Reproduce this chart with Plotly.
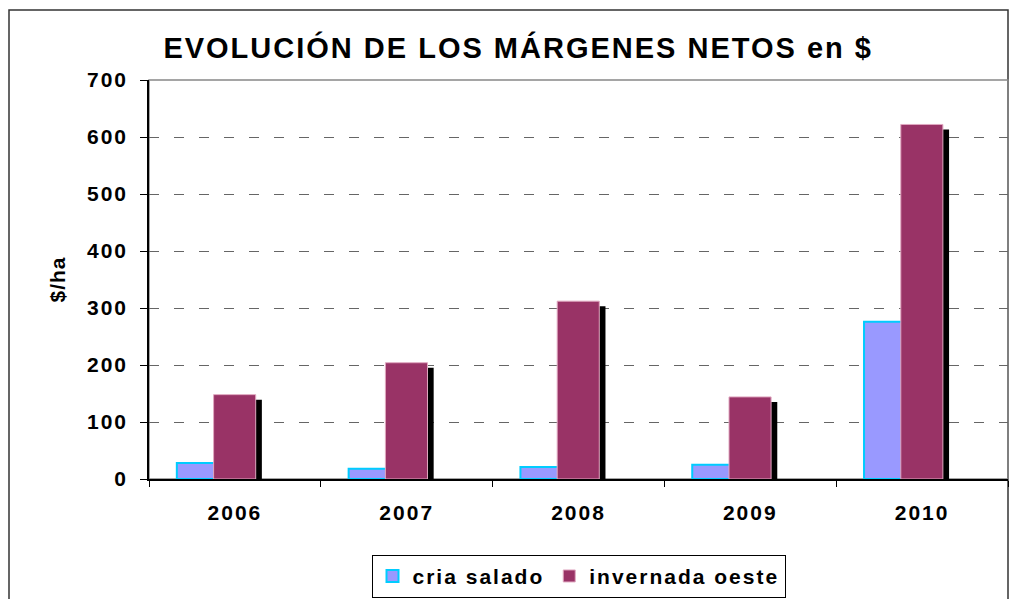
import plotly.graph_objects as go

# data
years = ["2006", "2007", "2008", "2009", "2010"]
cria_salado = [28, 18, 21, 25, 276]
invernada_oeste = [148, 204, 312, 144, 622]

font = "Liberation Sans, Arial, sans-serif"


def spaced(txt, px):
    return f'<span style="letter-spacing:{px}px"><b>{txt}</b></span>'


fig = go.Figure()

# drop shadow behind the invernada bars (same values, shifted down/right)
fig.add_trace(go.Bar(x=years, y=[v - 9 for v in invernada_oeste],
                     offset=-0.09, width=0.247,
                     marker=dict(color="black", line=dict(width=0)),
                     showlegend=False, hoverinfo="skip"))
fig.add_trace(go.Bar(x=years, y=cria_salado, name=spaced("cria salado", 2),
                     offset=-0.338, width=0.24,
                     marker=dict(color="#9999FF",
                                 line=dict(color="#00CCFF", width=2))))
fig.add_trace(go.Bar(x=years, y=invernada_oeste,
                     name=spaced("invernada oeste", 2),
                     offset=-0.124, width=0.245,
                     marker=dict(color="#993366",
                                 line=dict(color="#E0A8C0", width=1))))

fig.update_layout(
    width=1016, height=599,
    margin=dict(l=149, r=8, t=80, b=120, autoexpand=False),
    paper_bgcolor="white", plot_bgcolor="white",
    barmode="overlay",
    font=dict(family=font, size=17, color="black"),
    title=dict(text=spaced("EVOLUCIÓN DE LOS MÁRGENES NETOS en $", 2),
               font=dict(size=29), x=0.51, xanchor="center",
               y=0.92, yanchor="middle"),
    legend=dict(orientation="h", x=0.5, xanchor="center",
                y=-0.19, yanchor="top",
                bordercolor="black", borderwidth=1,
                font=dict(size=21, color="black"),
                itemwidth=30, traceorder="normal"),
    shapes=[
        # outer chart frame
        dict(type="rect", xref="paper", yref="paper",
             x0=-140 / 859, x1=1, y0=-130 / 399, y1=469 / 399,
             line=dict(color="#333333", width=1.5), layer="below"),
        # plot area frame
        dict(type="rect", xref="paper", yref="paper",
             x0=0, x1=1, y0=0, y1=1,
             line=dict(color="#888888", width=1.5), layer="below"),
    ],
)

pre = '<span style="letter-spacing:2px"><b>'
post = '</b></span>'

fig.update_xaxes(type="category", tickson="boundaries", automargin=False,
                 ticks="outside", ticklen=6, tickcolor="black",
                 showline=True, linecolor="black", linewidth=1.5,
                 showgrid=False, ticklabelstandoff=14,
                 tickfont=dict(size=21), tickprefix=pre, ticksuffix=post)
fig.update_yaxes(range=[0, 700], dtick=100, automargin=False,
                 ticks="outside", ticklen=7, tickcolor="black",
                 showline=True, linecolor="black", linewidth=1.5,
                 showgrid=True, gridcolor="#666666", griddash="10px,15px",
                 gridwidth=1, zeroline=False, ticklabelstandoff=8,
                 tickfont=dict(size=21), tickprefix=pre, ticksuffix=post,
                 title=dict(text=spaced("$/ha", 1), font=dict(size=21),
                            standoff=16))

fig.write_html("out.html", config={"displayModeBar": False},
               post_script="document.body.style.margin='0';")
